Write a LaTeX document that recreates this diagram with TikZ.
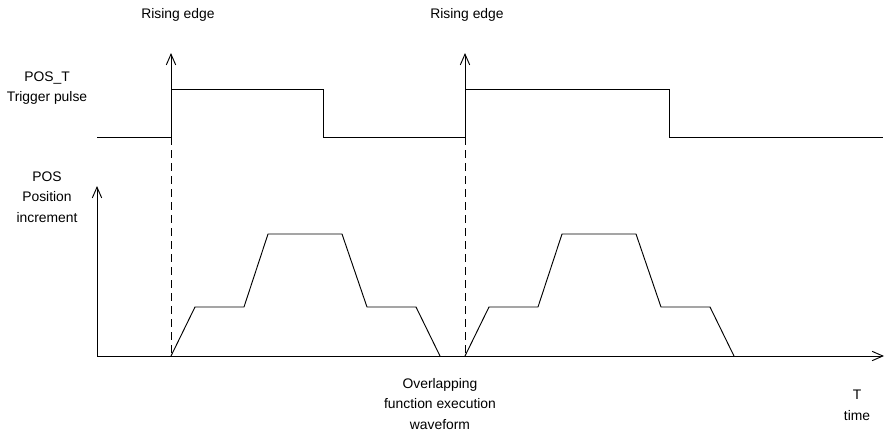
\documentclass[tikz,border=0pt]{standalone}
\usepackage{fontspec}
\setmainfont{Liberation Sans}
\usetikzlibrary{arrows.meta, positioning}
\tikzset{
    signal/.style={line width=0.7pt, draw=black},
    axis/.style={line width=0.7pt, draw=black, -{Straight Barb[length=8pt, width=7pt]}},
    edgemark/.style={line width=0.7pt, draw=black, dash pattern=on 6pt off 3.75pt},
    caption/.style={align=center, inner sep=0pt, font=\fontsize{10.4}{15.5}\selectfont}
}

\begin{document}
\begin{tikzpicture}[x=0.75pt, y=-0.75pt]
\useasboundingbox (0,0) rectangle (889,433);

% === LABELS ===
\node (rise1)   [caption] at (178,15)  {Rising edge};
\node (rise2)   [caption] at (467,15)  {Rising edge};
\node (trig)    [caption] at (47,88)   {POS\_T\\Trigger pulse};
\node (posinc)  [caption] at (47,197)  {POS\\Position\\increment};
\node (overlap) [caption] at (440,404) {Overlapping\\function execution\\waveform};
\node (timelbl) [caption] at (857,405) {T\\time};

% === KEY POINTS ===
\coordinate (origin) at (97,356);
\coordinate (ytop)   at (97,186);
\coordinate (xend)   at (884,356);
\coordinate (edge1)  at (171,137);
\coordinate (edge2)  at (465,137);
\coordinate (mark1)  at (171,53);
\coordinate (mark2)  at (465,53);
\coordinate (foot1)  at (171,356);
\coordinate (foot2)  at (465,356);

% === TRIGGER PULSE ===
\draw [signal] (97,137) -- (edge1) -- (171,89) -- (323,89) -- (323,137) -- (edge2)
    -- (465,89) -- (669,89) -- (669,137) -- (883,137);
\draw [axis] (edge1) -- (mark1);
\draw [axis] (edge2) -- (mark2);

% === RISING EDGE MARKERS ===
\draw [edgemark] (edge1) -- (foot1);
\draw [edgemark] (edge2) -- (foot2);

% === POSITION INCREMENT ===
\draw [axis] (origin) -- (ytop);
\draw [axis] (origin) -- (xend);
\draw [signal] (foot1) -- (195,307) -- (244,307) -- (268,234) -- (342,234)
    -- (367,307) -- (416,307) -- (440,356);
\draw [signal] (foot2) -- (489,307) -- (538,307) -- (562,234) -- (636,234)
    -- (661,307) -- (710,307) -- (734,356);

\end{tikzpicture}
\end{document}
